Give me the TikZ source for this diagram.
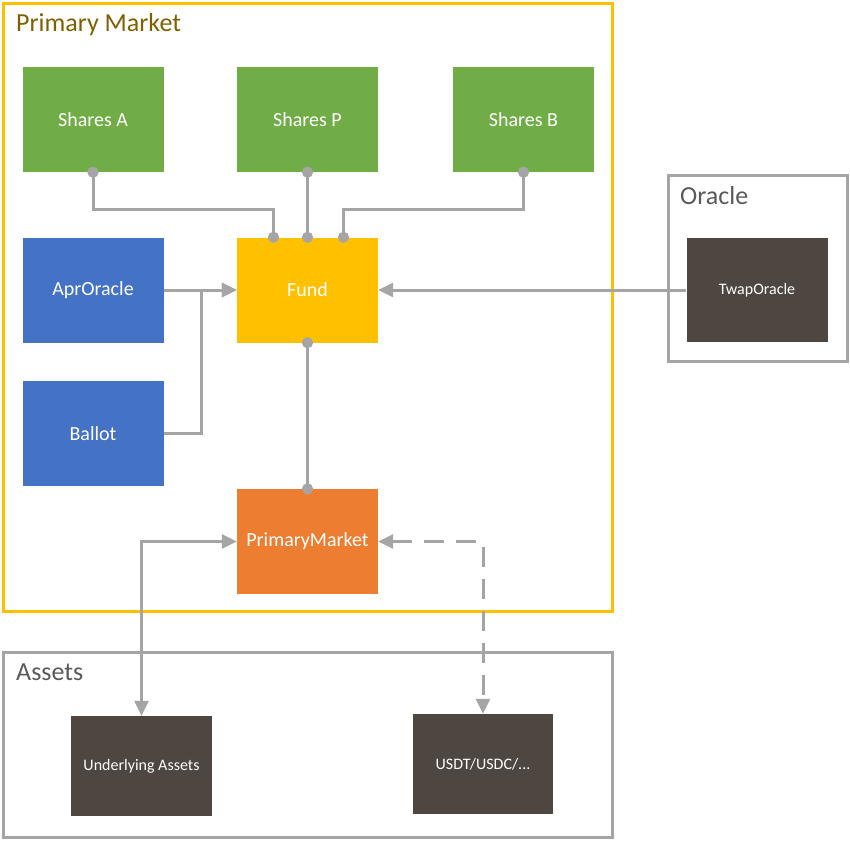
\documentclass[tikz,border=0pt]{standalone}
\usepackage{fontspec}
\setmainfont{Carlito}
\usepackage{tikz}
\usetikzlibrary{positioning, arrows.meta}

\definecolor{sharegreen}{HTML}{70AD47}
\definecolor{oracleblue}{HTML}{4472C4}
\definecolor{fundyellow}{HTML}{FFC000}
\definecolor{pmorange}{HTML}{ED7D31}
\definecolor{assetbrown}{HTML}{4E4640}
\definecolor{linkgray}{HTML}{A5A5A5}
\definecolor{titlegray}{HTML}{595959}
\definecolor{titleolive}{HTML}{7F6000}

\tikzset{
    block/.style={
        rectangle,
        inner sep=0pt,
        text=white,
        minimum width=141pt,
        minimum height=105pt,
        font=\fontsize{20}{24}\selectfont
    },
    darkblock/.style={
        block,
        fill=assetbrown,
        minimum height=100pt,
        font=\fontsize{16}{19}\selectfont
    },
    frame/.style={line width=3pt},
    frametitle/.style={anchor=west, inner sep=0pt, font=\fontsize{26}{31}\selectfont},
    link/.style={draw=linkgray, line width=3pt},
    dotlink/.style={link, {Circle[length=11pt,width=11pt]}-{Circle[length=11pt,width=11pt]},
        shorten <=-5.5pt, shorten >=-5.5pt},
    arrowlink/.style={link, -{Triangle[length=15pt,width=14pt]}},
    twolink/.style={link, {Triangle[length=15pt,width=14pt]}-{Triangle[length=15pt,width=14pt]}}
}

\begin{document}
\begin{tikzpicture}[x=1pt, y=-1pt]
    \useasboundingbox (0,0) rectangle (850,841);

    % frames
    \draw[frame, draw=fundyellow] (3,3) rectangle (612,611);
    \draw[frame, draw=linkgray] (668,175) rectangle (847,361);
    \draw[frame, draw=linkgray] (3,652) rectangle (612,837);
    \node[frametitle, text=titleolive] (pmtitle) at (16,25) {Primary Market};
    \node[frametitle, text=titlegray] (oracletitle) at (680,196) {Oracle};
    \node[frametitle, text=titlegray] (assettitle) at (16,672) {Assets};

    % contracts
    \node[block, fill=sharegreen] (sharesa) at (93,119.5) {Shares A};
    \node[block, fill=sharegreen] (sharesp) at (307.5,119.5) {Shares P};
    \node[block, fill=sharegreen] (sharesb) at (523.5,119.5) {Shares B};
    \node[block, fill=oracleblue] (aproracle) at (93,290) {AprOracle};
    \node[block, fill=oracleblue] (ballot) at (93,433.5) {Ballot};
    \node[block, fill=fundyellow] (fund) at (307.5,290) {Fund};
    \node[block, fill=pmorange] (primarymarket) at (307.5,541.5) {PrimaryMarket};
    \node[darkblock, minimum width=141pt, minimum height=104pt] (twaporacle) at (757,290) {TwapOracle};
    \node[darkblock] (underlying) at (141.5,766) {Underlying Assets};
    \node[darkblock, minimum width=140pt] (stable) at (483,764) {USDT/USDC/...};

    % links
    \draw[dotlink] (sharesa.south) -- ++(0,37) -| ([xshift=-34pt]fund.north);
    \draw[dotlink] (sharesp.south) -- (fund.north);
    \draw[dotlink] (sharesb.south) -- ++(0,37) -| ([xshift=36pt]fund.north);
    \draw[arrowlink] (aproracle.east) -- (fund.west);
    \draw[arrowlink] (ballot.east) -- ++(38,0) |- (fund.west);
    \draw[arrowlink] (twaporacle.west) -- (fund.east);
    \draw[dotlink] (fund.south) -- (primarymarket.north);
    \draw[twolink] (primarymarket.west) -| (underlying.north);
    \draw[twolink, dash pattern=on 20pt off 12pt] (primarymarket.east) -| (stable.north);
\end{tikzpicture}
\end{document}
